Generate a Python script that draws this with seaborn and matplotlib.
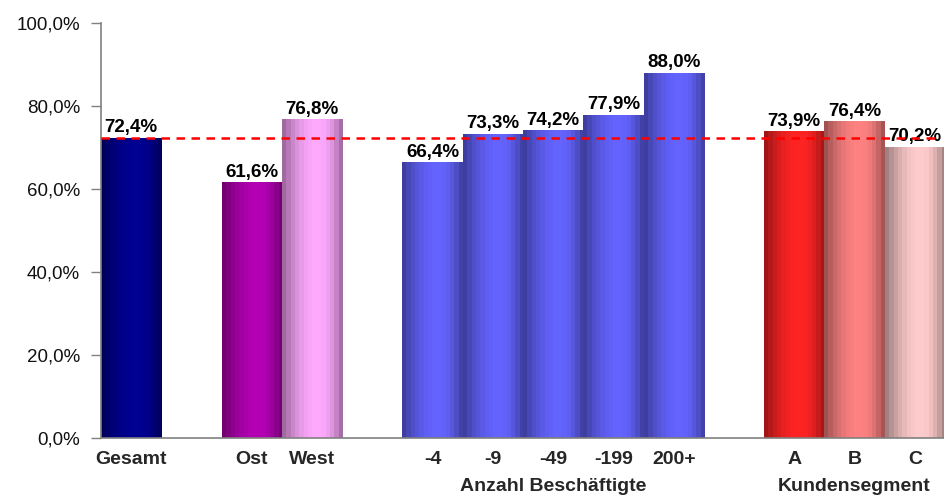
import numpy as np
import pandas as pd
import matplotlib
matplotlib.use("Agg")
import matplotlib.pyplot as plt
import matplotlib.colors as mcolors
from matplotlib.ticker import FuncFormatter
import seaborn as sns

# --- data ---------------------------------------------------------------
categories = ["Gesamt", "Ost", "West", "-4", "-9", "-49", "-199", "200+", "A", "B", "C"]
shares = [72.4, 61.6, 76.8, 66.4, 73.3, 74.2, 77.9, 88.0, 73.9, 76.4, 70.2]
group_of = [0, 1, 1, 2, 2, 2, 2, 2, 3, 3, 3]
group_titles = ["", "", "Anzahl Beschäftigte", "Kundensegment"]
bar_colors = ["#000092", "#B400B4", "#FFAAFF",
              "#6464FF", "#6464FF", "#6464FF", "#6464FF", "#6464FF",
              "#FF2424", "#FF8282", "#FFCCCC"]
y_ticks = [0, 20, 40, 60, 80, 100]

# --- slot order: one empty slot between groups -------------------------
order = []
gap = 0
for i, cat in enumerate(categories):
    if i > 0 and group_of[i] != group_of[i - 1]:
        order.append(" " * (gap + 1))
        gap += 1
    order.append(cat)

df = pd.DataFrame({"Kategorie": categories, "Anteil": shares})
palette = dict(zip(categories, bar_colors))


def pct(v, decimals=1):
    return f"{v:.{decimals}f}%".replace(".", ",")


sns.set_style("white")
plt.rcParams["font.family"] = ["Liberation Sans", "DejaVu Sans"]

fig = plt.figure(figsize=(9.45, 4.97), dpi=100)
ax = fig.add_axes([101 / 945, 1 - 438 / 497, 844 / 945, 415 / 497])

sns.barplot(data=df, x="Kategorie", y="Anteil", hue="Kategorie", order=order,
            palette=palette, width=1.0, legend=False, saturation=1,
            linewidth=0, ax=ax)

# cylinder-like banded shading on every bar
n_bands = 14
t = (np.arange(n_bands) + 0.5) / n_bands
peak = 0.6
prof = np.where(t < peak, ((t - peak) / peak) ** 2, ((t - peak) / (1 - peak)) ** 2)
prof = 1.0 - 0.42 * prof
for patch in list(ax.patches):
    h = patch.get_height()
    if not np.isfinite(h) or h <= 0:
        continue
    rgb = np.array(mcolors.to_rgb(patch.get_facecolor()))
    img = np.clip(prof[:, None] * rgb[None, :], 0, 1)[None, :, :]
    x0, y0, w = patch.get_x(), patch.get_y(), patch.get_width()
    im = ax.imshow(img, extent=(x0, x0 + w, y0, y0 + h), aspect="auto",
                   interpolation="nearest", zorder=patch.get_zorder() + 0.1)
    im.set_clip_path(patch)

ax.set_xlim(-0.5, len(order) - 0.5)
ax.set_ylim(0, 100)

# value labels
for cat, val in zip(categories, shares):
    xpos = order.index(cat)
    ax.annotate(pct(val), (xpos, val), xytext=(0, 1), textcoords="offset points",
                ha="center", va="bottom", fontsize=13.5, fontweight="bold",
                color="black", zorder=5)

# reference line at the overall value
ax.axhline(shares[0], xmin=0, xmax=0.988, color="#FF0000", lw=1.8,
           linestyle=(0, (3.4, 2.6)), zorder=6)

# axes styling
ax.yaxis.set_major_formatter(FuncFormatter(lambda v, _: pct(v)))
ax.set_yticks(y_ticks)
ax.tick_params(axis="y", length=7, width=1, color="#808080", pad=8,
               labelsize=13.5, labelcolor="#111111", left=True)
ax.set_xticks([order.index(c) for c in categories])
ax.set_xticklabels(categories, fontsize=14, fontweight="bold")
ax.tick_params(axis="x", length=0, pad=9, bottom=False)
for side in ("top", "right"):
    ax.spines[side].set_visible(False)
for side in ("left", "bottom"):
    ax.spines[side].set_color("#808080")
    ax.spines[side].set_linewidth(1.2)
ax.set_xlabel("")
ax.set_ylabel("")
ax.grid(False)

# group titles below the category labels
trans = ax.get_xaxis_transform()
for g, title in enumerate(group_titles):
    if not title:
        continue
    members = [order.index(c) for c, gi in zip(categories, group_of) if gi == g]
    ax.text(np.mean(members), -0.127, title, transform=trans, ha="center",
            va="baseline", fontsize=14, fontweight="bold", clip_on=False)

fig.savefig("out.png", dpi=100)
